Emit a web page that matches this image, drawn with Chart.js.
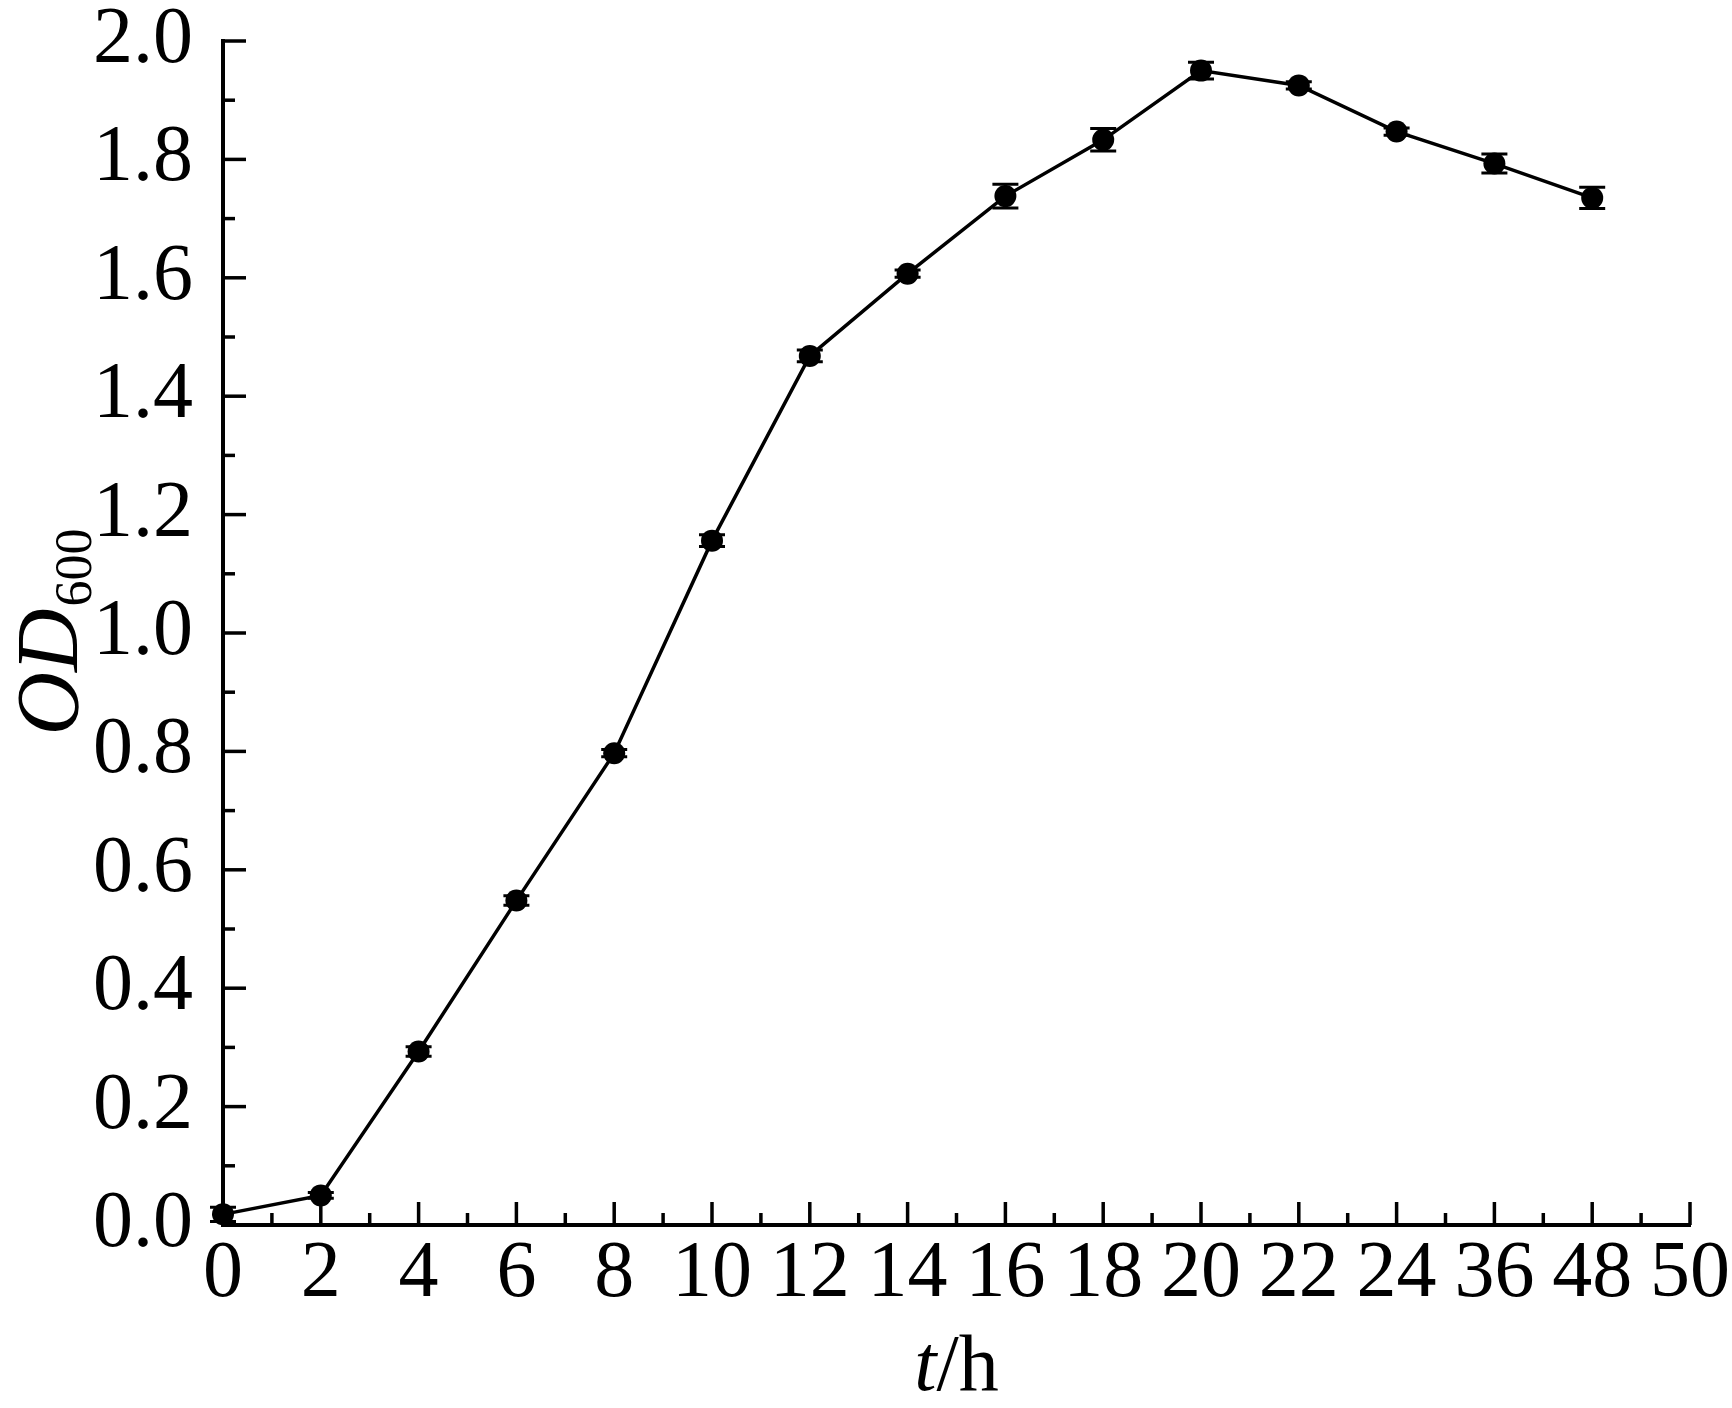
<!DOCTYPE html>
<html>
<head>
<meta charset="utf-8">
<script src="https://cdn.jsdelivr.net/npm/chart.js@4"></script>
<style>
  html, body { margin: 0; padding: 0; background: #fff; }
  #wrap { width: 1732px; height: 1408px; }
</style>
</head>
<body>
<div id="wrap"><canvas id="growthChart"></canvas></div>
<script>
/* ================= DATA ================= */
const xTickLabels = ["0", "2", "4", "6", "8", "10", "12", "14", "16", "18", "20", "22", "24", "36", "48", "50"];
const times = [0, 2, 4, 6, 8, 10, 12, 14, 16, 18, 20, 22, 24, 36, 48];
const od600 = [0.018, 0.050, 0.293, 0.548, 0.797, 1.156, 1.468, 1.607, 1.738, 1.833, 1.950, 1.925, 1.847, 1.793, 1.735];
const odErr = [0.012, 0.005, 0.008, 0.008, 0.006, 0.010, 0.010, 0.006, 0.020, 0.019, 0.014, 0.006, 0.006, 0.016, 0.018];

// time labels sit at even spacing on the axis (36 and 48 come right after 24)
const xIndex = t => xTickLabels.indexOf(String(t));

const FONT = "Liberation Serif, Times New Roman, serif";

/* ================= PLUGIN: ticks, error bars, titles ================= */
const axisDecor = {
    id: "axisDecor",
    afterDatasetsDraw(chart) {
        const { ctx, scales: { x, y } } = chart;
        ctx.save();
        ctx.strokeStyle = "#000";
        ctx.lineCap = "butt";

        // error bars
        ctx.lineWidth = 3;
        times.forEach((t, i) => {
            const px = x.getPixelForValue(xIndex(t));
            const top = y.getPixelForValue(od600[i] + odErr[i]);
            const bot = y.getPixelForValue(od600[i] - odErr[i]);
            ctx.beginPath();
            ctx.moveTo(px, top); ctx.lineTo(px, bot);
            ctx.moveTo(px - 13, top); ctx.lineTo(px + 13, top);
            ctx.moveTo(px - 13, bot); ctx.lineTo(px + 13, bot);
            ctx.stroke();
        });

        // inward ticks, major + minor
        ctx.lineWidth = 3.5;
        const bottom = y.getPixelForValue(0);
        const left = x.getPixelForValue(0);
        for (let v = 0; v <= xTickLabels.length - 1; v += 0.5) {
            const px = x.getPixelForValue(v);
            const len = Number.isInteger(v) ? 23 : 12;
            ctx.beginPath();
            ctx.moveTo(px, bottom); ctx.lineTo(px, bottom - len);
            ctx.stroke();
        }
        for (let k = 0; k <= 20; k++) {
            const py = y.getPixelForValue(k / 10);
            const len = k % 2 === 0 ? 23 : 12;
            ctx.beginPath();
            ctx.moveTo(left, py); ctx.lineTo(left + len, py);
            ctx.stroke();
        }
        ctx.restore();
    },
    afterDraw(chart) {
        const { ctx, chartArea: a } = chart;
        ctx.save();
        ctx.fillStyle = "#000";
        ctx.textBaseline = "alphabetic";

        // x title: t/h
        const cx = (a.left + a.right) / 2;
        ctx.font = "italic 80px " + FONT;
        const wT = ctx.measureText("t").width;
        ctx.font = "80px " + FONT;
        const wH = ctx.measureText("/h").width;
        let sx = cx - (wT + wH) / 2;
        ctx.font = "italic 80px " + FONT;
        ctx.fillText("t", sx, 1390);
        ctx.font = "80px " + FONT;
        ctx.fillText("/h", sx + wT, 1390);

        // y title: OD600 (rotated)
        const cy = (a.top + a.bottom) / 2;
        ctx.translate(77, cy);
        ctx.rotate(-Math.PI / 2);
        ctx.font = "italic 88px " + FONT;
        const wOD = ctx.measureText("OD").width;
        ctx.font = "52px " + FONT;
        const wSub = ctx.measureText("600").width;
        sx = -(wOD + wSub) / 2;
        ctx.font = "italic 88px " + FONT;
        ctx.fillText("OD", sx, 0);
        ctx.font = "52px " + FONT;
        ctx.fillText("600", sx + wOD + 2, 14);
        ctx.restore();
    }
};

/* ================= CHART ================= */
new Chart(document.getElementById("growthChart"), {
    type: "line",
    data: {
        datasets: [{
            label: "OD600",
            data: times.map((t, i) => ({ x: xIndex(t), y: od600[i] })),
            borderColor: "#000",
            backgroundColor: "#000",
            borderWidth: 3.5,
            pointRadius: 11,
            pointBackgroundColor: "#000",
            pointBorderWidth: 0,
            tension: 0,
            clip: false
        }]
    },
    options: {
        responsive: true,
        maintainAspectRatio: false,
        animation: false,
        layout: { padding: { top: 41, right: 40, left: 0, bottom: 0 } },
        plugins: {
            legend: { display: false },
            tooltip: { enabled: false }
        },
        scales: {
            x: {
                type: "linear",
                min: 0,
                max: xTickLabels.length - 1,
                afterFit: s => { s.height = 183; },
                grid: { display: false, drawTicks: false },
                border: { display: true, color: "#000", width: 4 },
                ticks: {
                    stepSize: 1,
                    autoSkip: false,
                    maxRotation: 0,
                    padding: 2,
                    color: "#000",
                    font: { family: FONT, size: 80, lineHeight: 1.2 },
                    callback: v => xTickLabels[v]
                }
            },
            y: {
                min: 0,
                max: 2.0,
                afterFit: s => { s.width = 223; s.paddingTop = 0; s.paddingBottom = 0; },
                grid: { display: false, drawTicks: false },
                border: { display: true, color: "#000", width: 4 },
                ticks: {
                    stepSize: 0.2,
                    padding: 30,
                    color: "#000",
                    font: { family: FONT, size: 80, lineHeight: 1.0 },
                    callback: v => v.toFixed(1)
                }
            }
        }
    },
    plugins: [axisDecor]
});
</script>
</body>
</html>
